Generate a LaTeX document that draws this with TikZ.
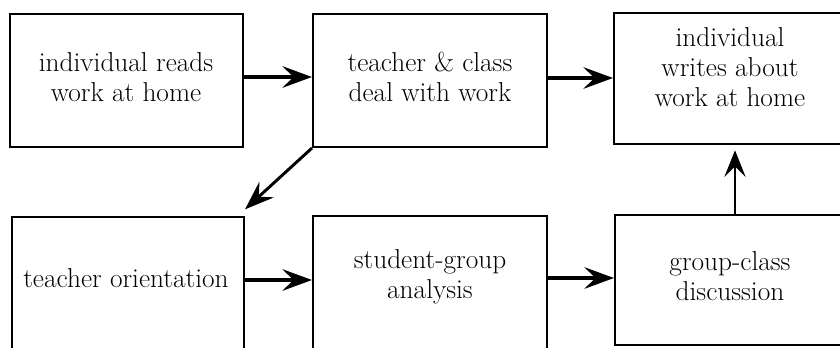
\documentclass[tikz,border=0pt]{standalone}
\usetikzlibrary{arrows.meta}
\begin{document}
\begin{tikzpicture}[x=0.75pt,y=-0.75pt,
  box/.style={draw,line width=1.5pt},
  lbl/.style={align=center,font=\fontsize{20.5}{22.5}\selectfont,inner sep=0pt},
  flow/.style={line width=3pt,-{Stealth[length=22pt,width=16pt,inset=8pt]}},
  thin flow/.style={line width=1.6pt,-{Stealth[length=20pt,width=16pt,inset=8pt]}}]
\useasboundingbox (0,0) rectangle (840,347);
\begin{scope}
\clip (0,0) rectangle (840,347);
\node[box,minimum width=233*0.75pt,minimum height=133*0.75pt] (b1) at (126.5,80.5) {};
\node[box,minimum width=234*0.75pt,minimum height=133*0.75pt] (b2) at (430,80.5) {};
\node[box,minimum width=240*0.75pt,minimum height=131*0.75pt] (b3) at (734,78.5) {};
\node[box,minimum width=232*0.75pt,minimum height=143*0.75pt] (b4) at (128,288.5) {};
\node[box,minimum width=234*0.75pt,minimum height=144*0.75pt] (b5) at (430,288) {};
\node[box,minimum width=240*0.75pt,minimum height=130*0.75pt] (b6) at (735,280) {};
\end{scope}
\node[lbl] (t1) at (126,77) {individual reads\\work at home};
\node[lbl] (t2) at (430,77) {teacher \& class\\deal with work};
\node[lbl] (t3) at (730,67) {individual\\writes about\\work at home};
\node[lbl] (t4) at (126,278) {teacher orientation};
\node[lbl] (t5) at (430,277) {student-group\\analysis};
\node[lbl] (t6) at (730,276) {group-class\\discussion};
\coordinate (v) at (735,0);
\draw[flow] (b1.east |- t1) -- (b2.west |- t1);
\draw[flow] (b2.east |- 0,78) -- (b3.west |- 0,78);
\draw[flow] (b4.east |- 0,280) -- (b5.west |- 0,280);
\draw[flow] (b5.east |- 0,278) -- (b6.west |- 0,278);
\draw[flow,line width=2.2pt,shorten >=-0pt] (b2.south west) -- ([yshift=5pt]b4.north east);
\draw[thin flow] (b6.north -| v) -- ([yshift=-4pt]b3.south -| v);
\end{tikzpicture}
\end{document}
